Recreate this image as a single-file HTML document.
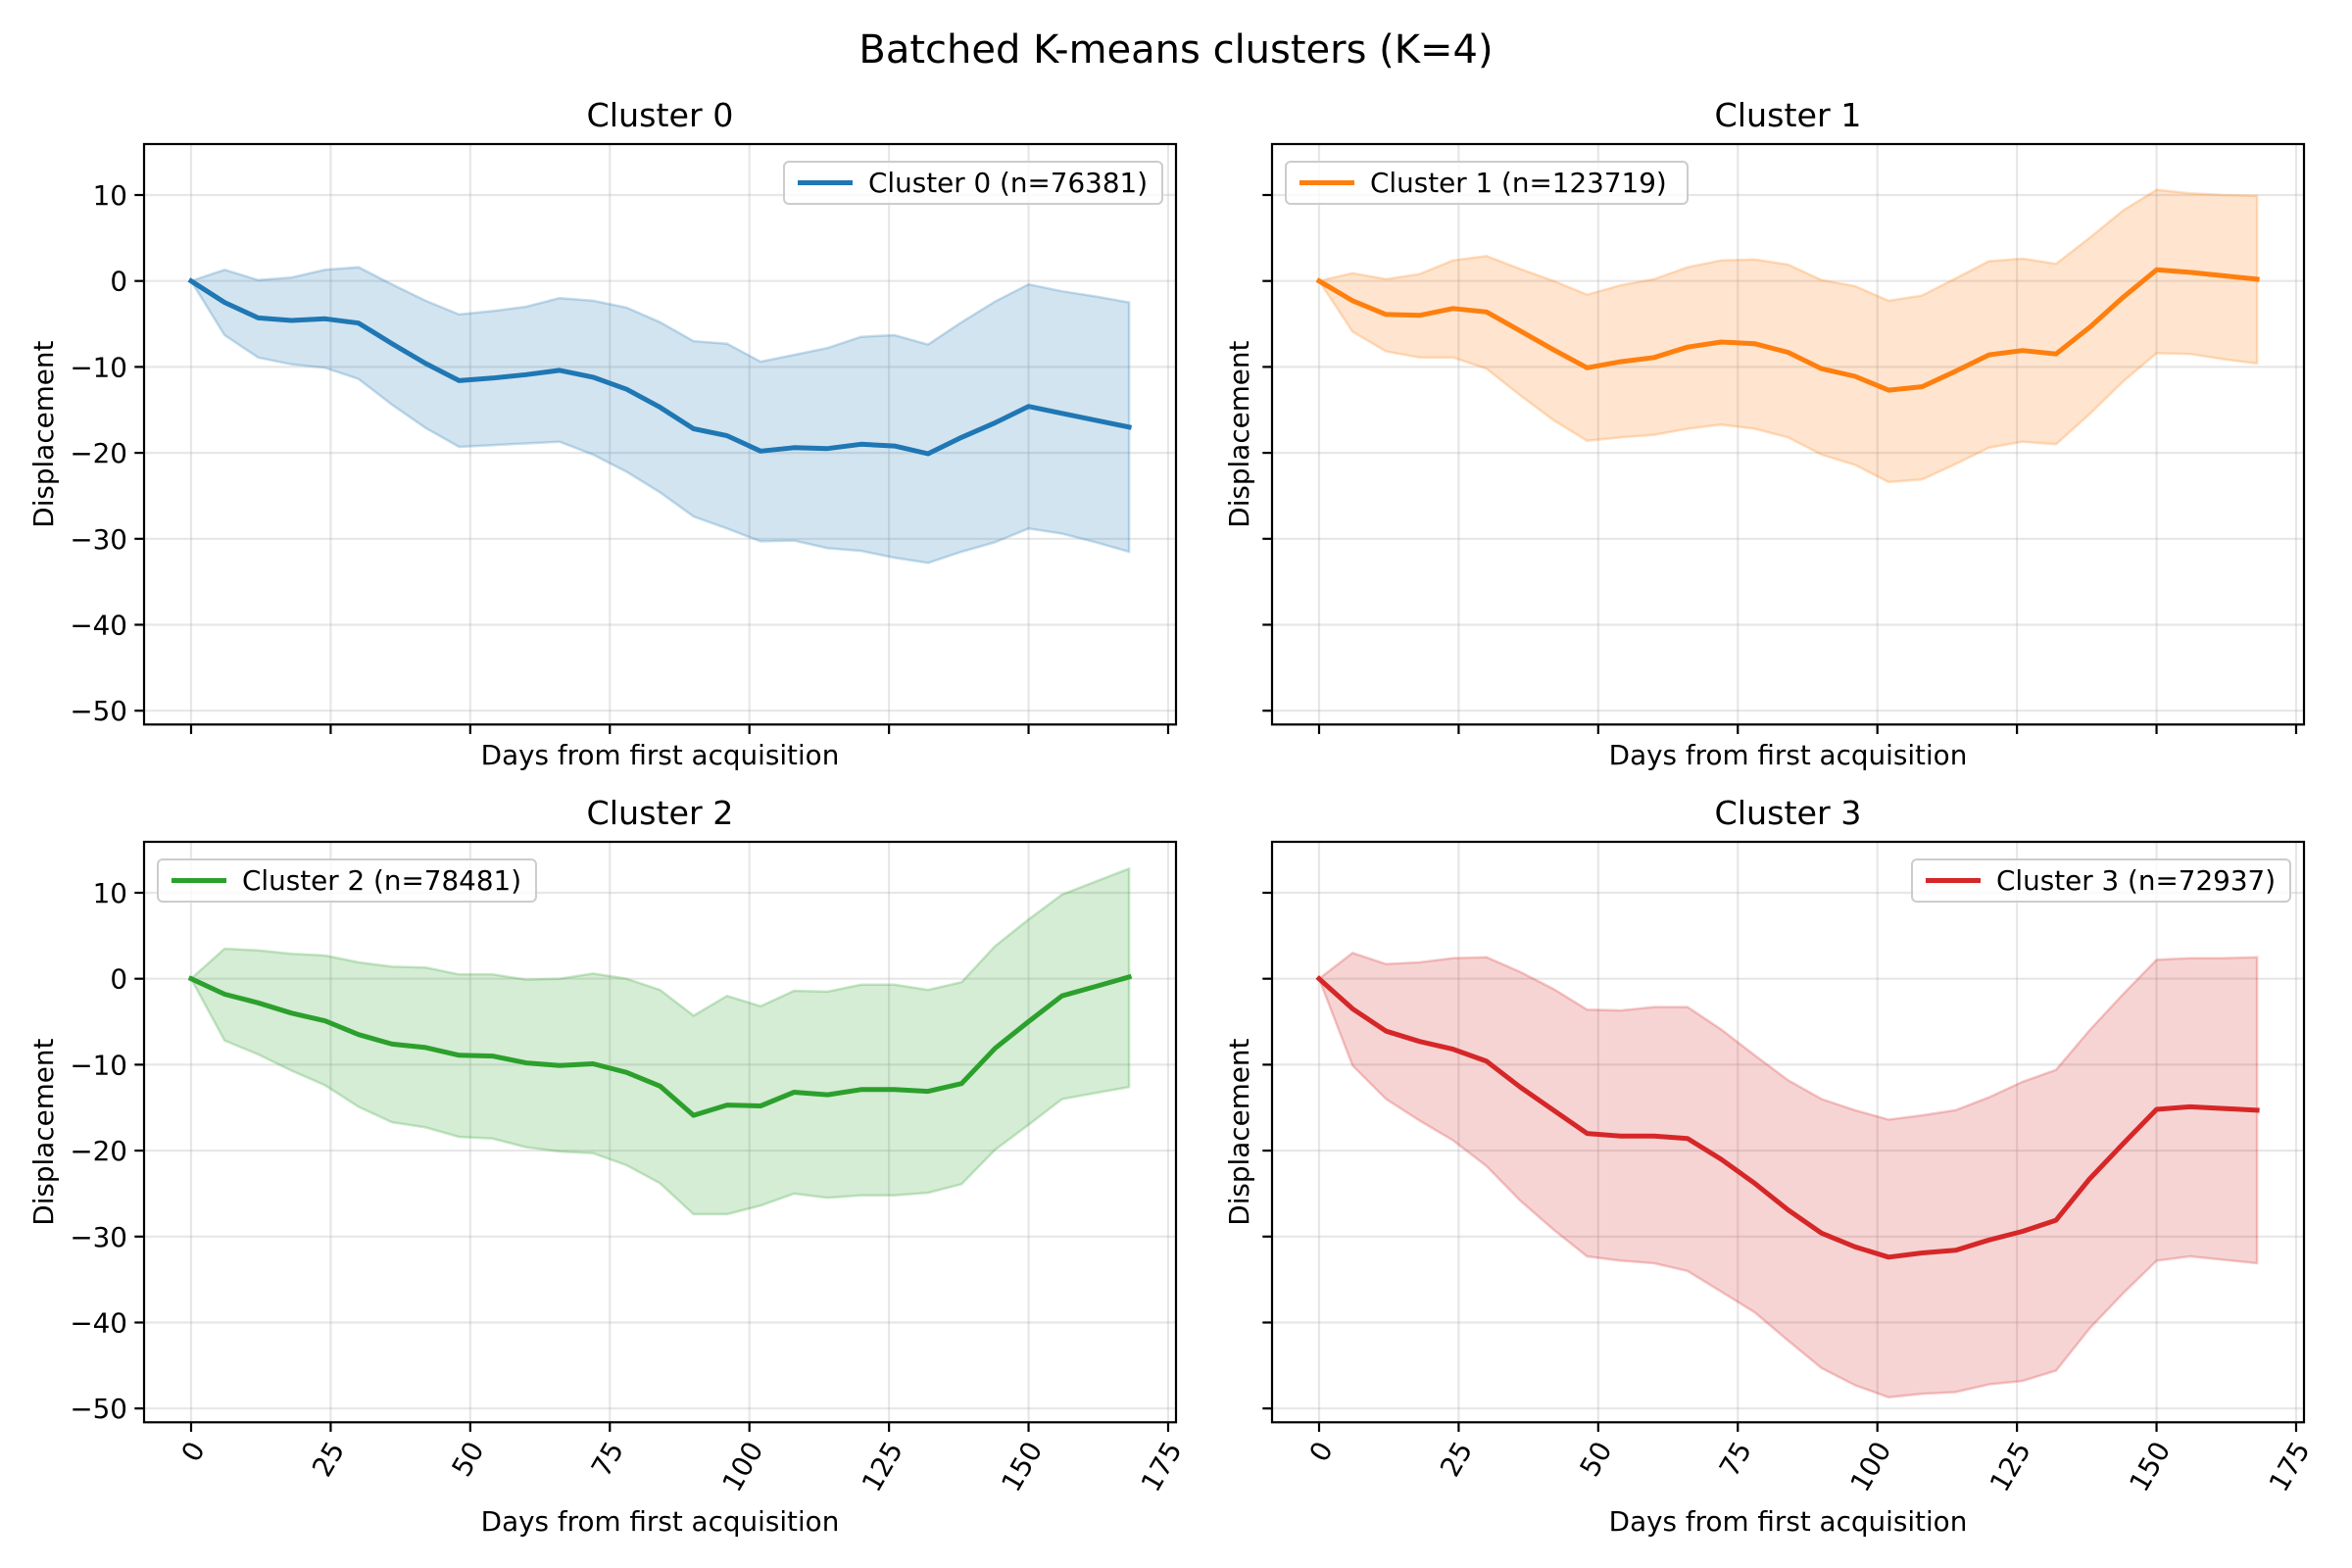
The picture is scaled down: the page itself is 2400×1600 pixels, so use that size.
<!DOCTYPE html>
<html><head><meta charset="utf-8">
<style>
html,body{margin:0;padding:0;background:#fff;}
svg{display:block;}
text{font-family:"DejaVu Sans","Liberation Sans",sans-serif;fill:#000;}
</style></head>
<body>
<svg id="s" width="2400" height="1600" xmlns="http://www.w3.org/2000/svg">
<text x="1200" y="64" font-size="40" text-anchor="middle">Batched K-means clusters (K=4)</text>
</svg>
<script>
const days=[];for(let i=0;i<=168;i+=6)days.push(i);
const D=[
{c:'#1f77b4',f:'rgba(31,119,180,0.2)',e:'rgba(31,119,180,0.25)',n:'76381',leg:'r',
m:[0,-2.5,-4.3,-4.6,-4.4,-4.9,-7.3,-9.6,-11.6,-11.3,-10.9,-10.4,-11.2,-12.6,-14.7,-17.2,-18,-19.8,-19.4,-19.5,-19,-19.2,-20.1,-18.2,-16.5,-14.6,-15.4,-16.2,-17],
u:[0,1.3,0.1,0.4,1.3,1.6,-0.4,-2.3,-3.9,-3.5,-3,-2,-2.3,-3.1,-4.8,-7,-7.3,-9.4,-8.6,-7.8,-6.5,-6.3,-7.4,-4.8,-2.4,-0.4,-1.2,-1.8,-2.5],
l:[0,-6.3,-8.9,-9.7,-10.1,-11.4,-14.4,-17.1,-19.3,-19.1,-18.9,-18.7,-20.2,-22.2,-24.6,-27.4,-28.8,-30.3,-30.2,-31.1,-31.4,-32.2,-32.8,-31.5,-30.4,-28.8,-29.4,-30.4,-31.5]},
{c:'#ff7f0e',f:'rgba(255,127,14,0.2)',e:'rgba(255,127,14,0.25)',n:'123719',leg:'l',
m:[0,-2.3,-3.9,-4,-3.2,-3.6,-5.8,-8,-10.1,-9.4,-8.9,-7.7,-7.1,-7.3,-8.3,-10.2,-11.1,-12.7,-12.3,-10.5,-8.6,-8.1,-8.5,-5.4,-1.9,1.3,1,0.6,0.2],
u:[0,0.9,0.2,0.8,2.4,2.9,1.4,0,-1.6,-0.5,0.2,1.6,2.4,2.5,1.9,0.1,-0.6,-2.3,-1.7,0.3,2.3,2.6,2,5,8.2,10.6,10.2,10,9.9],
l:[0,-5.9,-8.2,-8.9,-8.9,-10.2,-13.3,-16.2,-18.6,-18.2,-17.9,-17.2,-16.7,-17.2,-18.2,-20.2,-21.4,-23.4,-23.1,-21.3,-19.4,-18.7,-19,-15.5,-11.7,-8.4,-8.5,-9.1,-9.6]},
{c:'#2ca02c',f:'rgba(44,160,44,0.2)',e:'rgba(44,160,44,0.25)',n:'78481',leg:'l',
m:[0,-1.8,-2.8,-4,-4.9,-6.5,-7.6,-8,-8.9,-9,-9.8,-10.1,-9.9,-10.9,-12.5,-15.9,-14.7,-14.8,-13.2,-13.5,-12.9,-12.9,-13.1,-12.2,-8.1,-5,-2,-0.9,0.2],
u:[0,3.5,3.3,2.9,2.7,1.9,1.4,1.3,0.5,0.5,-0.1,0,0.6,0,-1.3,-4.3,-2,-3.2,-1.4,-1.5,-0.7,-0.7,-1.3,-0.4,3.8,6.9,9.8,11.3,12.8],
l:[0,-7.2,-8.8,-10.7,-12.4,-14.9,-16.7,-17.3,-18.4,-18.6,-19.6,-20.1,-20.3,-21.7,-23.8,-27.4,-27.4,-26.4,-25,-25.5,-25.2,-25.2,-24.9,-23.9,-19.9,-17,-14,-13.3,-12.6]},
{c:'#d62728',f:'rgba(214,39,40,0.2)',e:'rgba(214,39,40,0.25)',n:'72937',leg:'r',
m:[0,-3.5,-6.1,-7.3,-8.2,-9.6,-12.6,-15.3,-18,-18.3,-18.3,-18.6,-21,-23.8,-26.9,-29.6,-31.2,-32.4,-31.9,-31.6,-30.4,-29.4,-28.1,-23.3,-19.2,-15.2,-14.9,-15.1,-15.3],
u:[0,3,1.7,1.9,2.4,2.5,0.8,-1.2,-3.6,-3.7,-3.3,-3.3,-5.9,-8.9,-11.8,-14,-15.3,-16.4,-15.9,-15.3,-13.8,-12,-10.6,-6,-1.8,2.2,2.4,2.4,2.5],
l:[0,-10.1,-14,-16.5,-18.8,-21.8,-25.8,-29.2,-32.3,-32.8,-33.1,-34,-36.4,-38.8,-42.1,-45.3,-47.3,-48.7,-48.3,-48.1,-47.2,-46.8,-45.6,-40.7,-36.6,-32.8,-32.3,-32.7,-33.1]}
];
const pos=[[147,147],[1298,147],[147,859],[1298,859]];
const W=1053,H=592.3;
let s='';
D.forEach((d,k)=>{
 const [L,T]=pos[k];const bottom=k>=2, left=(k%2==0);
 const X=v=>L+48+v*5.697, Y=v=>T+139.7-v*8.77;
 s+=`<clipPath id="c${k}"><rect x="${L}" y="${T}" width="${W}" height="${H}"/></clipPath>`;
 for(let t=0;t<=175;t+=25)s+=`<line x1="${X(t)}" y1="${T}" x2="${X(t)}" y2="${T+H}" stroke="#b0b0b0" stroke-opacity="0.3" stroke-width="2.2"/>`;
 for(let v=10;v>=-50;v-=10)s+=`<line x1="${L}" y1="${Y(v)}" x2="${L+W}" y2="${Y(v)}" stroke="#b0b0b0" stroke-opacity="0.3" stroke-width="2.2"/>`;
 let p=days.map((x,i)=>`${X(x).toFixed(1)},${Y(d.u[i]).toFixed(1)}`);
 let q=days.map((x,i)=>`${X(x).toFixed(1)},${Y(d.l[i]).toFixed(1)}`).reverse();
 s+=`<polygon clip-path="url(#c${k})" points="${p.concat(q).join(' ')}" fill="${d.f}" stroke="${d.e}" stroke-width="2.5"/>`;
 s+=`<polyline clip-path="url(#c${k})" points="${days.map((x,i)=>X(x).toFixed(1)+','+Y(d.m[i]).toFixed(1)).join(' ')}" fill="none" stroke="${d.c}" stroke-width="5" stroke-linejoin="round" stroke-linecap="square"/>`;
 s+=`<rect x="${L}" y="${T}" width="${W}" height="${H}" fill="none" stroke="#000" stroke-width="2.2"/>`;
 for(let t=0;t<=175;t+=25){
  s+=`<line x1="${X(t)}" y1="${T+H}" x2="${X(t)}" y2="${T+H+9.7}" stroke="#000" stroke-width="2.2"/>`;
  if(bottom){const tx=X(t)+6,ty=T+H+22;
   s+=`<text font-size="27.8" text-anchor="end" transform="translate(${tx},${ty}) rotate(-60)" dy="10">${t}</text>`;}
 }
 for(let v=10;v>=-50;v-=10){
  s+=`<line x1="${L-9.7}" y1="${Y(v)}" x2="${L}" y2="${Y(v)}" stroke="#000" stroke-width="2.2"/>`;
  if(left)s+=`<text x="${L-17}" y="${Y(v)+10}" font-size="27.8" text-anchor="end">${v<0?'\u2212'+(-v):v}</text>`;
 }
 s+=`<text x="${L+W/2}" y="${T-18}" font-size="33.3" text-anchor="middle">Cluster ${k}</text>`;
 s+=`<text x="${L+W/2}" y="${bottom?1562:780}" font-size="27.8" text-anchor="middle">Days from first acquisition</text>`;
 s+=`<text font-size="27.8" text-anchor="middle" transform="translate(${left?L-93:L-24},${T+H/2}) rotate(-90)">Displacement</text>`;
 const lab=`Cluster ${k} (n=${d.n})`;const lw=k==1?410:386;
 const lx=d.leg=='r'?L+W-14-lw:L+14, ly=T+18;
 s+=`<rect x="${lx}" y="${ly}" width="${lw}" height="43" rx="5" fill="#fff" fill-opacity="0.8" stroke="#ccc" stroke-width="2"/>`;
 s+=`<line x1="${lx+14}" y1="${ly+21.5}" x2="${lx+70}" y2="${ly+21.5}" stroke="${d.c}" stroke-width="5"/>`;
 s+=`<text x="${lx+86}" y="${ly+31}" font-size="27.8">${lab}</text>`;
});
document.getElementById('s').insertAdjacentHTML('beforeend',s);
</script>
</body></html>
